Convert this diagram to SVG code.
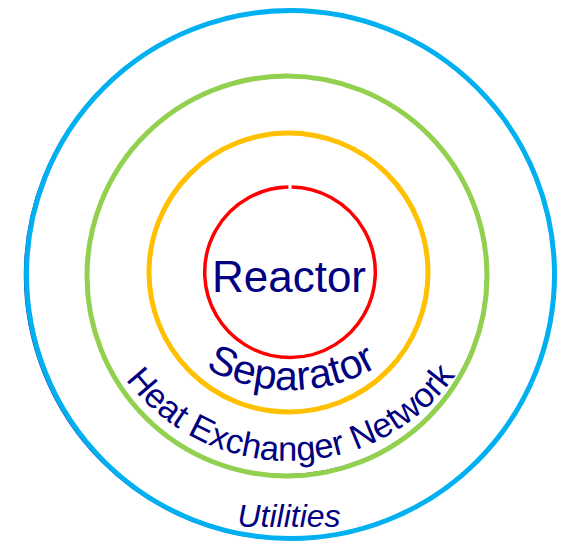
<svg xmlns="http://www.w3.org/2000/svg" width="565" height="549" viewBox="0 0 565 549">
<style>
.ring{fill:none}
.lbl{font-family:"Liberation Sans",Arial,sans-serif;fill:#000080}
</style>
<defs>
<path id="sepPath" d="M 138.4 302.5 A 175 175 0 0 0 441.6 302.5"/>
<path id="henPath" d="M 96.4 326.1 A 205 205 0 0 0 481.6 326.1"/>
</defs>
<rect width="565" height="549" fill="#fff"/>
<g id="utilities">
<circle cx="289" cy="275" r="264.5" class="ring" stroke="#000080" stroke-width="1.5" stroke-opacity="0.8"/>
<circle cx="290.5" cy="274.5" r="264" class="ring" stroke="#00B0F0" stroke-width="5"/>
<text x="289" y="527" text-anchor="middle" class="lbl" font-size="32" font-style="italic">Utilities</text>
</g>
<g id="heat-exchanger-network">
<circle cx="286.5" cy="275.5" r="199.3" class="ring" stroke="#000080" stroke-width="1.5" stroke-opacity="0.8"/>
<circle cx="287" cy="276" r="200" class="ring" stroke="#92D050" stroke-width="5"/>
<text class="lbl" font-size="34.5"><textPath href="#henPath" startOffset="50.5%" text-anchor="middle">Heat Exchanger Network</textPath></text>
</g>
<g id="separator">
<circle cx="288.5" cy="272.5" r="139.5" class="ring" stroke="#FFC000" stroke-width="5"/>
<text class="lbl" font-size="41"><textPath href="#sepPath" startOffset="50.5%" text-anchor="middle">Separator</textPath></text>
</g>
<g id="reactor">
<path d="M 291.6 187 A 85.3 85.3 0 1 1 288.4 187" class="ring" stroke="#FF0000" stroke-width="3.5"/>
<text x="289" y="292" text-anchor="middle" class="lbl" font-size="44">Reactor</text>
</g>
<g id="connectors"/>
</svg>
